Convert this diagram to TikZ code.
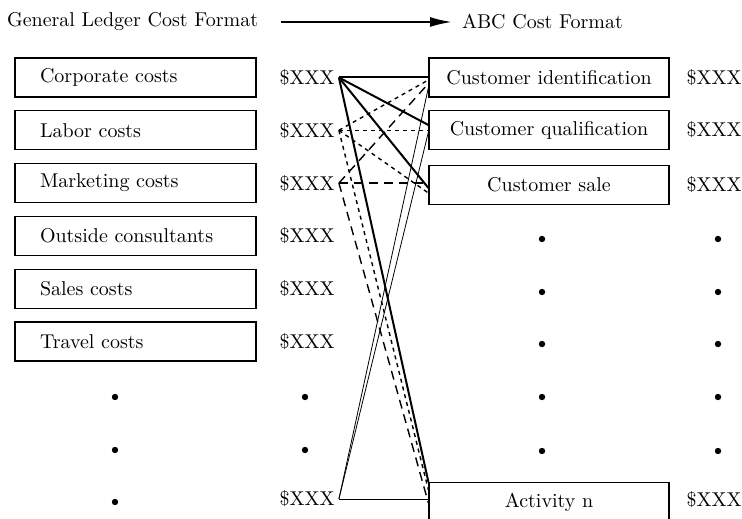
\documentclass[tikz,border=0pt]{standalone}
\usetikzlibrary{arrows.meta}
\tikzset{
  costbox/.style={draw, line width=0.6pt, minimum height=19.5pt, text width=95.5pt, inner xsep=12.5pt, align=left},
  actbox/.style={draw, line width=0.6pt, minimum width=120pt, minimum height=19.5pt},
  amt/.style={inner xsep=2pt},
  dot/.style={circle, fill, inner sep=0pt, minimum size=3.2pt},
  heavy/.style={line width=1pt},
  dotline/.style={line width=0.7pt, dash pattern=on 2pt off 2pt},
  dashline/.style={line width=0.7pt, dash pattern=on 4.5pt off 3pt},
  thinline/.style={line width=0.4pt}
}
\begin{document}
\begin{tikzpicture}[x=0.5pt, y=-0.5pt]
    \clip (0,0) rectangle (742,518);
    \node[anchor=west] (glcf) at (0,22) {General Ledger Cost Format};
    \node[anchor=west] (abcf) at (455,22) {ABC Cost Format};
    \draw[heavy, -{Latex[length=11pt, width=5pt]}, shorten <=8pt, shorten >=1.5pt] (glcf) -- (abcf);

    \foreach \t [count=\i] in {Corporate costs, Labor costs, Marketing costs, Outside consultants, Sales costs, Travel costs} {
        \node[costbox] (c\i) at (135.5, {77.5+52.8*(\i-1)}) {\t};
        \node[amt] (a\i) at (307, {77.5+52.8*(\i-1)}) {\$XXX};
    }
    \foreach \y [count=\i] in {397, 450, 502}
        \node[dot] (ld\i) at (115,\y) {};
    \foreach \y [count=\i] in {397, 450}
        \node[dot] (ad\i) at (305,\y) {};
    \node[amt] (an) at (307,499) {\$XXX};

    \foreach \t/\y [count=\i] in {Customer identification/77.5, Customer qualification/130, Customer sale/185} {
        \node[actbox] (r\i) at (549,\y) {\t};
        \node[amt] (b\i) at (714,\y) {\$XXX};
    }
    \node[actbox] (rn) at (549,502) {Activity n};
    \node[amt] (bn) at (714,500) {\$XXX};
    \foreach \y [count=\i] in {239, 292, 344, 397, 451} {
        \node[dot] (rd\i) at (542,\y) {};
        \node[dot] (bd\i) at (718,\y) {};
    }

    \draw[heavy] (a1.east) -- (r1.west |- a1.east);
    \draw[heavy] (a1.east) -- ([yshift=2.5pt]r2.west);
    \draw[heavy] (a1.east) -- ([yshift=-1.5pt]r3.west);
    \draw[heavy] (a1.east) -- (rn.north west);
    \draw[dotline] (a2.east) -- ([yshift=-1.25pt]r1.west);
    \draw[dotline] (a2.east) -- (r2.west |- a2.east);
    \draw[dotline] (a2.east) -- ([yshift=-4pt]r3.west);
    \draw[dotline] (a2.east) -- ([yshift=6pt]rn.west);
    \draw[dashline] (a3.east) -- ([yshift=-3pt]r1.west);
    \draw[dashline] (a3.east) -- (r3.west |- a3.east);
    \draw[dashline] (a3.east) -- ([yshift=-0.5pt]rn.west);
    \draw[thinline] (an.east) -- ([yshift=-5pt]r1.west);
    \draw[thinline] (an.east) -- ([yshift=-1pt]r2.west);
    \draw[thinline] (an.east) -- (rn.west |- an.east);
\end{tikzpicture}
\end{document}
